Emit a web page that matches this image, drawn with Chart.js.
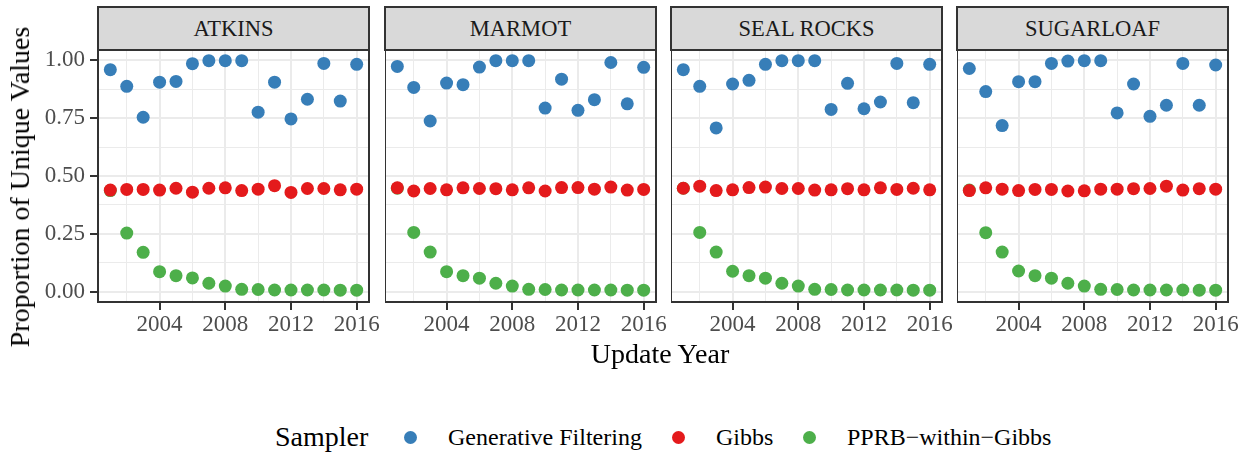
<!DOCTYPE html>
<html><head><meta charset="utf-8">
<script src="https://cdn.jsdelivr.net/npm/chart.js@4"></script>
<style>
html,body{margin:0;padding:0;background:#fff;}
body{width:1254px;height:455px;overflow:hidden;position:relative;font-family:'Liberation Serif', serif;}
canvas{position:absolute;}
.strip{position:absolute;top:6px;height:45px;background:#D9D9D9;border:2px solid #333;box-sizing:border-box;text-align:center;line-height:41px;font-size:22.5px;color:#1A1A1A;font-family:'Liberation Serif', serif;}
.ttl{position:absolute;font-size:28px;color:#000;white-space:nowrap;line-height:28px;font-family:'Liberation Serif', serif;}
.lab{position:absolute;font-size:24px;color:#000;white-space:nowrap;line-height:24px;top:425px;font-family:'Liberation Serif', serif;}
.dot{position:absolute;width:13px;height:13px;border-radius:50%;top:430.5px;}
</style>
</head><body>
<script>
// ---- data ----
const years = [2001,2002,2003,2004,2005,2006,2007,2008,2009,2010,2011,2012,2013,2014,2015,2016];
const sites = ["ATKINS","MARMOT","SEAL ROCKS","SUGARLOAF"];
const samplers = ["Generative Filtering","Gibbs","PPRB\u2212within\u2212Gibbs"];
const xTicks = [2002,2004,2006,2008,2010,2012,2014,2016];
const xTickLabels = [2004,2008,2012,2016];
const yTicks = [0,0.125,0.25,0.375,0.5,0.625,0.75,0.875,1];
const yTickLabels = [0,0.25,0.5,0.75,1];

const atkinsGF    = [0.960,0.888,0.754,0.906,0.909,0.986,0.999,0.999,0.999,0.776,0.906,0.747,0.832,0.987,0.824,0.983];
const atkinsGibbs = [0.439,0.442,0.442,0.439,0.447,0.430,0.447,0.449,0.437,0.443,0.458,0.429,0.446,0.446,0.440,0.443];
const atkinsPPRB  = [0.437,0.253,0.170,0.086,0.069,0.059,0.036,0.024,0.010,0.009,0.007,0.007,0.007,0.007,0.006,0.006];

const marmotGF    = [0.974,0.883,0.738,0.902,0.895,0.971,0.999,0.999,0.999,0.794,0.919,0.784,0.830,0.991,0.812,0.970];
const marmotGibbs = [0.449,0.435,0.446,0.440,0.449,0.446,0.445,0.440,0.449,0.435,0.450,0.450,0.443,0.452,0.439,0.442];
const marmotPPRB  = [0.447,0.256,0.171,0.086,0.069,0.058,0.036,0.024,0.010,0.009,0.007,0.007,0.007,0.007,0.006,0.006];

const sealGF      = [0.960,0.888,0.708,0.898,0.914,0.983,0.999,0.999,0.999,0.788,0.901,0.791,0.820,0.987,0.817,0.983];
const sealGibbs   = [0.447,0.456,0.437,0.440,0.450,0.452,0.446,0.446,0.439,0.440,0.445,0.440,0.449,0.442,0.447,0.440];
const sealPPRB    = [0.447,0.256,0.171,0.088,0.069,0.058,0.036,0.024,0.010,0.009,0.007,0.007,0.007,0.007,0.006,0.006];

const sugarGF     = [0.965,0.865,0.718,0.908,0.908,0.987,0.997,0.999,0.999,0.773,0.898,0.758,0.806,0.987,0.806,0.980];
const sugarGibbs  = [0.437,0.449,0.443,0.437,0.442,0.442,0.435,0.436,0.443,0.443,0.445,0.446,0.456,0.439,0.445,0.443];
const sugarPPRB   = [0.439,0.255,0.171,0.089,0.069,0.058,0.036,0.024,0.010,0.009,0.007,0.007,0.007,0.007,0.006,0.006];

const siteSeries = [
  [atkinsGF, atkinsGibbs, atkinsPPRB],
  [marmotGF, marmotGibbs, marmotPPRB],
  [sealGF, sealGibbs, sealPPRB],
  [sugarGF, sugarGibbs, sugarPPRB]
];
const colors = ["#377EB8","#E41A1C","#4DAF4A"];

// ---- layout ----
const FONT = "'Liberation Serif', serif";
const panelLeft = [98, 385, 671, 957];
const panelW = 271;
const panelTop = 50, panelH = 252, xAxisH = 40;
const yAxisW = 70, padR = 24;

const panelBorder = {
  id: 'panelBorder',
  afterDraw(chart) {
    const {ctx, chartArea: a} = chart;
    ctx.save();
    ctx.strokeStyle = '#333333';
    ctx.lineWidth = 2;
    ctx.strokeRect(a.left, a.top, a.right - a.left, a.bottom - a.top);
    ctx.restore();
  }
};

function addDiv(cls, text, style) {
  const d = document.createElement('div');
  d.className = cls;
  if (text !== null) d.textContent = text;
  Object.assign(d.style, style);
  document.body.appendChild(d);
  return d;
}

const charts = [];
sites.forEach((site, i) => {
  const first = i === 0;
  const cv = document.createElement('canvas');
  const cLeft = first ? panelLeft[i] - yAxisW : panelLeft[i];
  const cW = (first ? panelW + yAxisW : panelW) + padR;
  cv.width = cW; cv.height = panelH + xAxisH;
  cv.style.left = cLeft + 'px'; cv.style.top = panelTop + 'px';
  cv.style.width = cW + 'px'; cv.style.height = (panelH + xAxisH) + 'px';
  document.body.appendChild(cv);

  addDiv('strip', site, {left: (panelLeft[i] - 1) + 'px', width: (panelW + 2) + 'px'});

  const datasets = samplers.map((s, k) => ({
    label: s,
    data: years.map((y, j) => ({x: y, y: siteSeries[i][k][j]})),
    backgroundColor: colors[k],
    borderWidth: 0,
    pointRadius: 6.5,
    pointHoverRadius: 6.5
  }));

  charts.push(new Chart(cv.getContext('2d'), {
    type: 'scatter',
    data: {datasets},
    options: {
      responsive: false, animation: false, devicePixelRatio: 1,
      events: [],
      layout: {padding: {left: 0, top: 0, bottom: 0, right: padR}, autoPadding: false},
      plugins: {legend: {display: false}, tooltip: {enabled: false}, title: {display: false}},
      scales: {
        x: {
          type: 'linear', min: 2000.25, max: 2016.75,
          afterBuildTicks: s => { s.ticks = xTicks.map(v => ({value: v})); },
          afterFit: s => { s.height = xAxisH; s.paddingLeft = 0; s.paddingRight = 0; },
          ticks: {
            autoSkip: false, maxRotation: 0, minRotation: 0, padding: 1,
            color: '#4D4D4D', font: {family: FONT, size: 23},
            callback: v => xTickLabels.includes(v) ? String(v) : ''
          },
          grid: {
            color: '#EBEBEB',
            lineWidth: c => (c.tick && xTickLabels.includes(c.tick.value)) ? 2 : 1,
            tickLength: 8,
            tickColor: c => (c.tick && xTickLabels.includes(c.tick.value)) ? '#333333' : 'rgba(0,0,0,0)',
            tickWidth: 2
          },
          border: {display: false}
        },
        y: {
          type: 'linear', min: -0.045, max: 1.045,
          afterBuildTicks: s => { s.ticks = yTicks.map(v => ({value: v})); },
          afterFit: s => { s.width = first ? yAxisW : 0; s.paddingTop = 0; s.paddingBottom = 0; },
          ticks: {
            display: first, autoSkip: false, padding: 5,
            color: '#4D4D4D', font: {family: FONT, size: 23},
            callback: v => yTickLabels.includes(v) ? v.toFixed(2) : ''
          },
          grid: {
            color: '#EBEBEB',
            lineWidth: c => (c.tick && yTickLabels.includes(c.tick.value)) ? 2 : 1,
            drawTicks: first,
            tickLength: 8,
            tickColor: c => (c.tick && yTickLabels.includes(c.tick.value)) ? '#333333' : 'rgba(0,0,0,0)',
            tickWidth: 2
          },
          border: {display: false}
        }
      }
    },
    plugins: [panelBorder]
  }));
});
if (document.fonts && document.fonts.ready) {
  document.fonts.ready.then(() => charts.forEach(c => c.update('none')));
}

// axis titles
const yt = addDiv('ttl', 'Proportion of Unique Values', {});
yt.style.left = '20px'; yt.style.top = '187px';
yt.style.transform = 'translate(-50%,-50%) rotate(-90deg)';
const xt = addDiv('ttl', 'Update Year', {});
xt.style.top = '340px';
xt.style.left = '660px';
xt.style.transform = 'translateX(-50%)';

// legend
addDiv('ttl', 'Sampler', {left: '275px', top: '423px'});
const dotX = [410, 678, 809];
const labX = [448, 716, 847];
samplers.forEach((s, k) => {
  addDiv('dot', null, {left: (dotX[k] - 6.5) + 'px', background: colors[k]});
  addDiv('lab', s, {left: labX[k] + 'px'});
});
</script>
</body></html>
